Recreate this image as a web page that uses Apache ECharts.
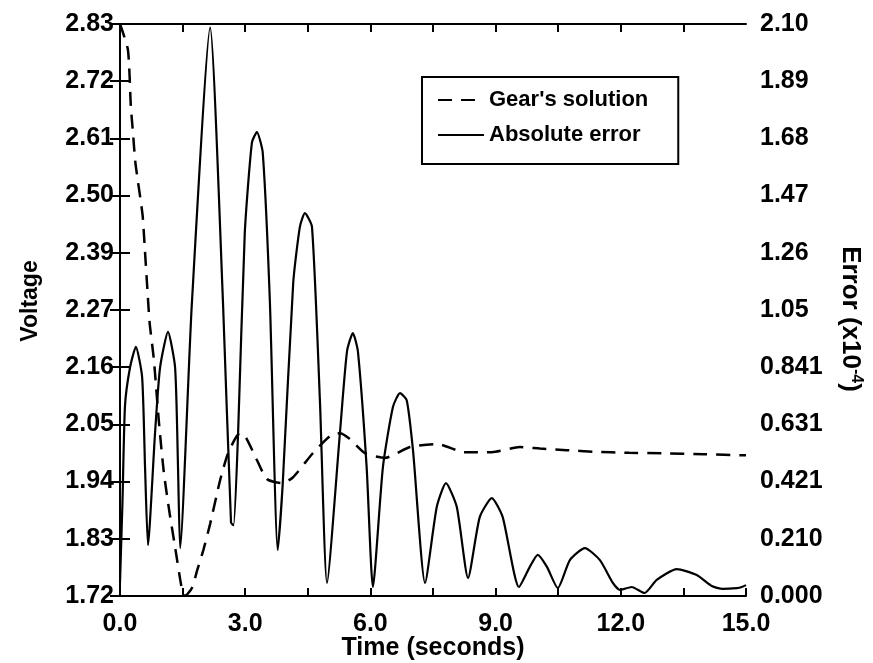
<!DOCTYPE html>
<html>
<head>
<meta charset="utf-8">
<script src="https://cdn.jsdelivr.net/npm/echarts@6/dist/echarts.min.js"></script>
<style>
html,body{margin:0;padding:0;background:#fff;}
#chart{width:873px;height:663px;}
</style>
</head>
<body>
<div id="chart"></div>
<script>
// ---- data ----
const gearT = [0,0.19,0.26,0.31,0.37,0.54,0.59,0.66,0.71,0.81,0.93,1.05,1.19,1.31,1.48,1.56,1.72,1.85,2.0,2.16,2.40,2.59,2.87,3.0,3.28,3.52,3.88,4.14,4.62,5.03,5.27,5.5,5.87,6.35,6.95,7.6,8.26,8.91,9.58,10.06,10.7,11.35,12.2,13.0,14.0,15];
const gearV = [2.83,2.78,2.67,2.62,2.56,2.46,2.40,2.31,2.25,2.18,2.06,1.96,1.88,1.82,1.735,1.72,1.735,1.77,1.81,1.86,1.945,1.997,2.036,2.03,1.984,1.947,1.939,1.95,1.997,2.03,2.036,2.025,1.997,1.988,2.009,2.015,1.999,1.999,2.009,2.006,2.003,2.0,1.998,1.997,1.995,1.993];

const errT = [0,0.06,0.12,0.24,0.38,0.53,0.6,0.67,0.84,0.96,1.15,1.32,1.39,1.44,1.72,2.16,2.47,2.66,2.72,2.83,2.99,3.16,3.28,3.42,3.59,3.78,3.9,4.15,4.31,4.43,4.6,4.79,4.96,5.27,5.44,5.58,5.7,5.91,6.06,6.3,6.54,6.71,6.87,7.02,7.31,7.59,7.81,8.07,8.34,8.62,8.91,9.17,9.56,9.82,10.01,10.23,10.49,10.78,11.14,11.5,11.81,11.98,12.26,12.57,12.86,13.34,13.82,14.18,14.44,14.78,14.9,15];
const errV = [0.05,0.35,0.7,0.84,0.916,0.805,0.474,0.187,0.6,0.84,0.971,0.84,0.474,0.176,1.07,2.09,1.07,0.27,0.26,0.6,1.335,1.666,1.706,1.63,1.088,0.169,0.415,1.15,1.357,1.408,1.357,0.72,0.048,0.6,0.9,0.967,0.9,0.474,0.033,0.474,0.695,0.746,0.72,0.537,0.048,0.327,0.415,0.327,0.066,0.29,0.36,0.29,0.033,0.107,0.151,0.107,0.029,0.132,0.176,0.132,0.048,0.022,0.033,0.011,0.059,0.099,0.077,0.037,0.026,0.029,0.033,0.04];

const xTicks = [0,1.5,3,4.5,6,7.5,9,10.5,12,13.5,15];
const xLabelVals = [0,3,6,9,12,15];
const voltTicks = [1.72,1.831,1.942,2.053,2.164,2.275,2.386,2.497,2.608,2.719,2.83];
const voltLabels = ['1.72','1.83','1.94','2.05','2.16','2.27','2.39','2.50','2.61','2.72','2.83'];
const errTicks = [0,0.2103,0.4206,0.6309,0.8412,1.0515,1.2618,1.4721,1.6824,1.8927,2.103];
const errLabels = ['0.000','0.210','0.421','0.631','0.841','1.05','1.26','1.47','1.68','1.89','2.10'];

function nearestLabel(ticks, labels, v){
  let bi=0, bd=Infinity;
  ticks.forEach((t,i)=>{const d=Math.abs(t-v); if(d<bd){bd=d;bi=i;}});
  return labels[bi];
}

const FONT = "'Liberation Sans', Arial, sans-serif";
const axisLine = {show:true, lineStyle:{color:'#000', width:2}};
const labelStyle = {color:'#000', fontSize:25, fontWeight:'bold', fontFamily:FONT};

const chart = echarts.init(document.getElementById('chart'), null, {renderer:'canvas'});
chart.setOption({
  animation:false,
  backgroundColor:'#fff',
  grid:{left:120, right:127, top:24, bottom:67, containLabel:false, outerBoundsMode:'none'},
  legend:{
    data:["Gear's solution","Absolute error"],
    orient:'vertical', left:422, top:77,
    itemWidth:46, itemHeight:14, itemGap:11,
    padding:[11,30,17,15],
    borderColor:'#000', borderWidth:2,
    itemStyle:{opacity:0},
    textStyle:{color:'#000', fontSize:22, fontWeight:'bold', fontFamily:FONT, lineHeight:24}
  },
  xAxis:[{
    type:'value', min:0, max:15, position:'bottom',
    axisLine:axisLine,
    axisTick:{show:true, inside:true, length:8, customValues:xTicks, lineStyle:{color:'#000', width:2}},
    axisLabel:Object.assign({customValues:xLabelVals, margin:16, formatter:v=>v.toFixed(1)}, labelStyle),
    splitLine:{show:false},
    name:'Time (seconds)', nameLocation:'middle', nameGap:40, nameMoveOverlap:false,
    nameTextStyle:{color:'#000', fontSize:25, fontWeight:'bold', fontFamily:FONT}
  },{
    type:'value', min:0, max:15, position:'top',
    axisLine:axisLine,
    axisTick:{show:true, inside:true, length:8, customValues:xTicks.slice(1,-1), lineStyle:{color:'#000', width:2}},
    axisLabel:{show:false}, splitLine:{show:false}
  }],
  yAxis:[{
    type:'value', min:1.72, max:2.83, position:'left',
    axisLine:axisLine,
    axisTick:{show:true, inside:true, length:10, customValues:voltTicks, lineStyle:{color:'#000', width:2}},
    axisLabel:Object.assign({customValues:voltTicks, margin:6, formatter:v=>nearestLabel(voltTicks,voltLabels,v)}, labelStyle),
    splitLine:{show:false},
    name:'Voltage', nameLocation:'middle', nameRotate:90, nameGap:78,
    nameTextStyle:{color:'#000', fontSize:23, fontWeight:'bold', fontFamily:FONT, padding:[0,0,0,18]}
  },{
    type:'value', min:0, max:2.103, position:'right',
    axisLine:axisLine,
    axisTick:{show:true, inside:true, length:10, customValues:errTicks, lineStyle:{color:'#000', width:2}},
    axisLabel:Object.assign({customValues:errTicks, margin:14, formatter:v=>nearestLabel(errTicks,errLabels,v)}, labelStyle),
    splitLine:{show:false},
    name:'Error (x10{sup|-4})', nameLocation:'middle', nameRotate:-90, nameGap:90,
    nameTextStyle:{color:'#000', fontSize:26, fontWeight:'bold', fontFamily:FONT, padding:[0,0,0,18],
      rich:{sup:{fontSize:16, fontWeight:'bold', fontFamily:FONT, color:'#000', padding:[0,0,12,0]}}}
  }],
  series:[{
    name:"Gear's solution", type:'line', xAxisIndex:0, yAxisIndex:0,
    data:gearT.map((t,i)=>[t,gearV[i]]),
    symbol:'none', smooth:0.2,
    lineStyle:{color:'#000', width:2.5, type:[14,9]},
    itemStyle:{color:'#000'}
  },{
    name:'Absolute error', type:'line', xAxisIndex:0, yAxisIndex:1,
    data:errT.map((t,i)=>[t,errV[i]]),
    symbol:'none', smooth:0.2,
    lineStyle:{color:'#000', width:2.2, type:'solid'},
    itemStyle:{color:'#000'}
  }]
});
</script>
</body>
</html>
